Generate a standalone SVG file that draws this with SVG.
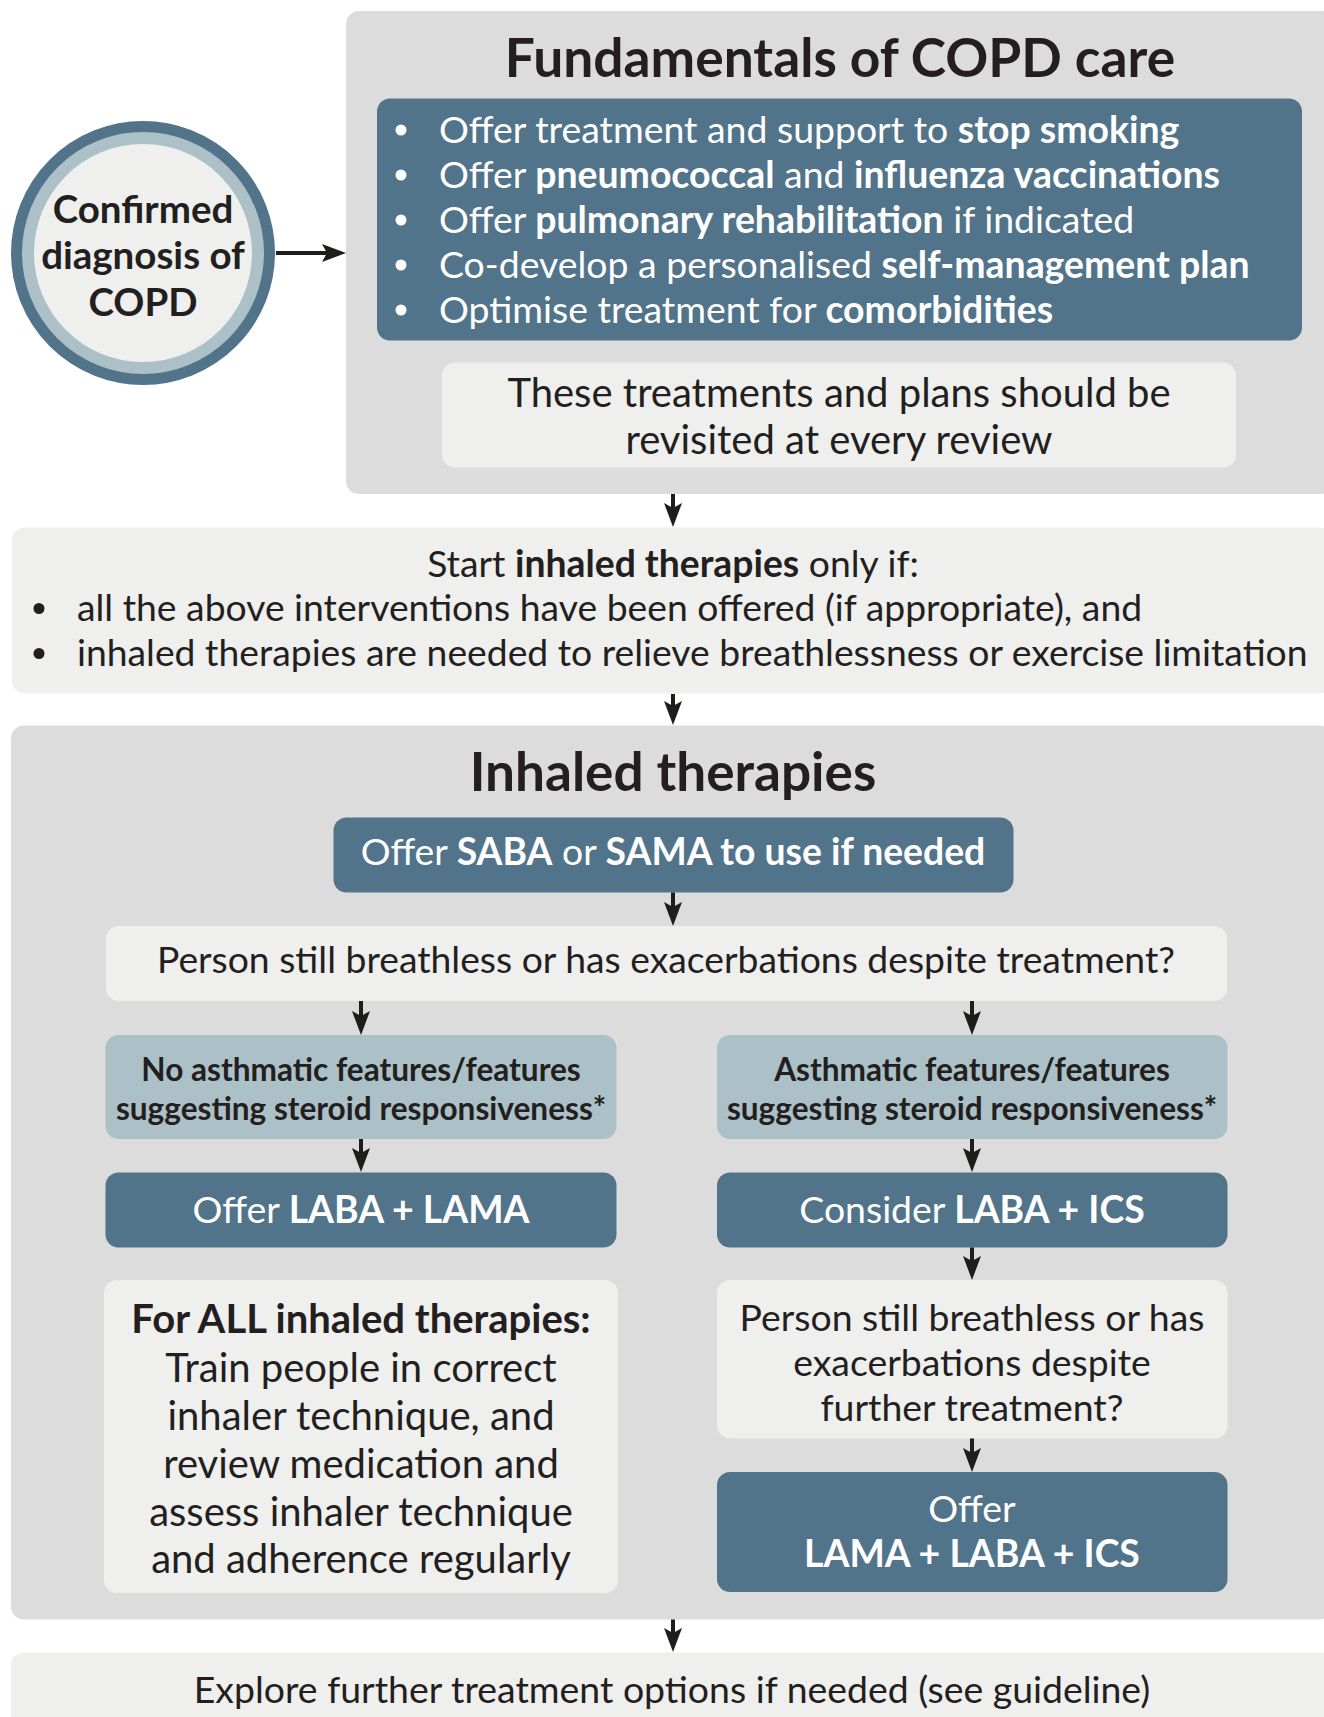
<svg xmlns="http://www.w3.org/2000/svg" width="1324" height="1717" viewBox="0 0 1324 1717">
<style>
text{font-family:Lato,"Noto Sans","Liberation Sans",sans-serif;fill:#231f20;}
.b{font-weight:700;}
.w{fill:#ffffff;}
.c{text-anchor:middle;}
.gray{fill:#dcdcdc;}
.light{fill:#efefee;}
.dark{fill:#52748b;}
.lblue{fill:#abc1c7;}
.conn line{stroke:#1d1d1b;stroke-width:4;marker-end:url(#ah);}
</style>
<defs>
<marker id="ah" viewBox="0 0 24 18" markerWidth="24" markerHeight="18" refX="10" refY="9" orient="auto" markerUnits="userSpaceOnUse">
<path d="M0,0 L24,9 L0,18 L5,9 z" fill="#1d1d1b"/>
</marker>
</defs>
<rect width="1324" height="1717" fill="#ffffff"/>

<g id="diagnosis">
<circle cx="143" cy="253" r="126.5" fill="#abc1c7" stroke="#52748b" stroke-width="11"/>
<circle cx="143" cy="253" r="109" fill="#efefee"/>
<text class="b c" x="143" y="223" font-size="38.5">Confirmed</text>
<text class="b c" x="143" y="269" font-size="38.5">diagnosis of</text>
<text class="b c" x="143" y="316" font-size="38.5">COPD</text>
</g>

<g id="fundamentals">
<rect class="gray" x="346" y="11" width="988" height="483" rx="13"/>
<text class="b c" x="840" y="77" font-size="53.3">Fundamentals of COPD care</text>
</g>

<g id="fundamentals-list">
<rect class="dark" x="377" y="98.5" width="925" height="242" rx="13"/>
<g fill="#ffffff">
<circle cx="401" cy="130" r="5.5"/>
<circle cx="401" cy="175" r="5.5"/>
<circle cx="401" cy="220" r="5.5"/>
<circle cx="401" cy="265" r="5.5"/>
<circle cx="401" cy="310" r="5.5"/>
</g>
<text class="w" x="439" y="143" font-size="37.4">Offer treatment and support to <tspan class="b">stop smoking</tspan></text>
<text class="w" x="439" y="188" font-size="37.4">Offer <tspan class="b">pneumococcal</tspan> and <tspan class="b">influenza vaccinations</tspan></text>
<text class="w" x="439" y="233" font-size="37.4">Offer <tspan class="b">pulmonary rehabilitation</tspan> if indicated</text>
<text class="w" x="439" y="278" font-size="37.4">Co-develop a personalised <tspan class="b">self-management plan</tspan></text>
<text class="w" x="439" y="323" font-size="37.4">Optimise treatment for <tspan class="b">comorbidities</tspan></text>
</g>

<g id="revisit">
<rect class="light" x="442" y="362.5" width="794" height="105" rx="13"/>
<text class="c" x="839" y="406.5" font-size="40">These treatments and plans should be</text>
<text class="c" x="839" y="453.5" font-size="40">revisited at every review</text>
</g>

<g id="start-inhaled">
<rect class="light" x="12" y="527.5" width="1320" height="166" rx="13"/>
<text class="c" x="673" y="577" font-size="37.3">Start <tspan class="b">inhaled therapies</tspan> only if:</text>
<circle cx="39" cy="608.5" r="5.5" fill="#231f20"/>
<circle cx="39" cy="653.5" r="5.5" fill="#231f20"/>
<text x="77" y="621" font-size="37.3">all the above interventions have been offered (if appropriate), and</text>
<text x="77" y="666" font-size="37.3">inhaled therapies are needed to relieve breathlessness or exercise limitation</text>
</g>

<g id="inhaled-therapies">
<rect class="gray" x="11" y="725.5" width="1321" height="894" rx="13"/>
<text class="b c" x="673" y="791" font-size="53.1">Inhaled therapies</text>
</g>

<g id="saba-sama">
<rect class="dark" x="333.5" y="817.5" width="680" height="75" rx="13"/>
<text class="w c" x="673" y="865" font-size="37.3">Offer <tspan class="b">SABA</tspan> or <tspan class="b">SAMA to use if needed</tspan></text>
</g>

<g id="still-breathless-1">
<rect class="light" x="106" y="926" width="1121" height="75" rx="13"/>
<text class="c" x="666" y="973" font-size="37.3">Person still breathless or has exacerbations despite treatment?</text>
</g>

<g id="no-asthmatic">
<rect class="lblue" x="105.5" y="1035" width="511" height="104" rx="13"/>
<text class="b c" x="361" y="1081" font-size="31.6">No asthmatic features/features</text>
<text class="b c" x="361" y="1120" font-size="31.6">suggesting steroid responsiveness*</text>
</g>

<g id="asthmatic">
<rect class="lblue" x="717" y="1035" width="510.5" height="104" rx="13"/>
<text class="b c" x="972" y="1081" font-size="31.6">Asthmatic features/features</text>
<text class="b c" x="972" y="1120" font-size="31.6">suggesting steroid responsiveness*</text>
</g>

<g id="laba-lama">
<rect class="dark" x="105.5" y="1172.5" width="511" height="75" rx="13"/>
<text class="w c" x="361" y="1223" font-size="37.4">Offer <tspan class="b">LABA + LAMA</tspan></text>
</g>

<g id="laba-ics">
<rect class="dark" x="717" y="1172.5" width="510.5" height="75" rx="13"/>
<text class="w c" x="972" y="1223" font-size="37.4">Consider <tspan class="b">LABA + ICS</tspan></text>
</g>

<g id="for-all">
<rect class="light" x="104" y="1280" width="514" height="313" rx="13"/>
<text class="b c" x="361" y="1332.5" font-size="40">For ALL inhaled therapies:</text>
<text class="c" x="361" y="1381.5" font-size="40">Train people in correct</text>
<text class="c" x="361" y="1429.5" font-size="40">inhaler technique, and</text>
<text class="c" x="361" y="1477.5" font-size="40">review medication and</text>
<text class="c" x="361" y="1525.5" font-size="40">assess inhaler technique</text>
<text class="c" x="361" y="1573" font-size="40">and adherence regularly</text>
</g>

<g id="still-breathless-2">
<rect class="light" x="717" y="1280" width="510.5" height="158.5" rx="13"/>
<text class="c" x="972" y="1331" font-size="37.4">Person still breathless or has</text>
<text class="c" x="972" y="1376" font-size="37.4">exacerbations despite</text>
<text class="c" x="972" y="1421" font-size="37.4">further treatment?</text>
</g>

<g id="lama-laba-ics">
<rect class="dark" x="717" y="1472" width="510.5" height="120" rx="13"/>
<text class="w c" x="972" y="1522" font-size="37.4">Offer</text>
<text class="w b c" x="972" y="1567" font-size="37.4">LAMA + LABA + ICS</text>
</g>

<g id="explore">
<rect class="light" x="11" y="1652.5" width="1321" height="80" rx="13"/>
<text class="c" x="672" y="1703" font-size="37.4">Explore further treatment options if needed (see guideline)</text>
</g>

<g id="connectors" class="conn">
<line x1="276" y1="253" x2="332" y2="253"/>
<line x1="673" y1="494" x2="673" y2="513"/>
<line x1="673" y1="694" x2="673" y2="711"/>
<line x1="673" y1="892.5" x2="673" y2="912"/>
<line x1="361" y1="1001" x2="361" y2="1021"/>
<line x1="972" y1="1001" x2="972" y2="1021"/>
<line x1="361" y1="1139" x2="361" y2="1158"/>
<line x1="972" y1="1139" x2="972" y2="1158"/>
<line x1="972" y1="1247.5" x2="972" y2="1266"/>
<line x1="972" y1="1438.5" x2="972" y2="1458"/>
<line x1="673" y1="1619.5" x2="673" y2="1638"/>
</g>
</svg>
